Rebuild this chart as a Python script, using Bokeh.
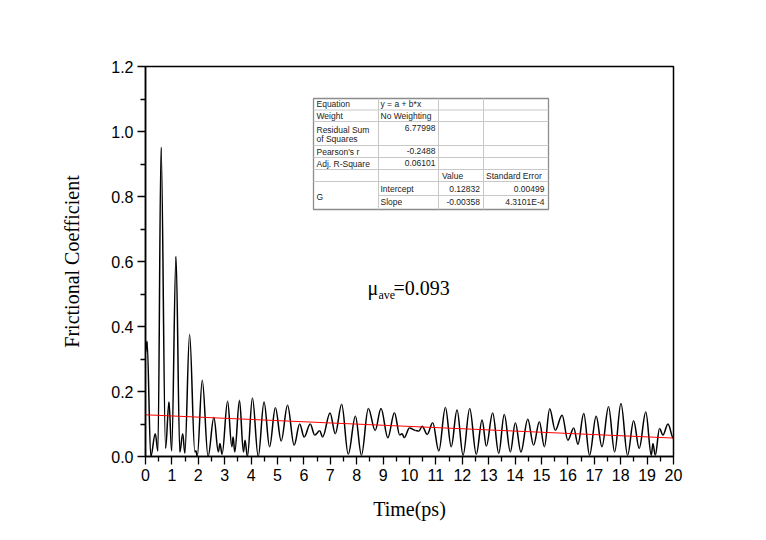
from bokeh.plotting import figure
from bokeh.models import Range1d, FixedTicker, NumeralTickFormatter, ColumnDataSource, Label
from bokeh.core.properties import value
from bokeh.embed import file_html
from bokeh.resources import INLINE

# ---------------- data ----------------
t_ext = [0.00, 0.06, 0.20, 0.37, 0.47, 0.59, 0.76, 0.89, 0.99, 1.156, 1.30, 1.41, 1.49, 1.67,
         1.87, 1.91, 1.96, 2.15, 2.37, 2.59, 2.76, 2.82, 2.90, 3.11, 3.27, 3.32, 3.38, 3.56,
         3.71, 3.77, 3.86, 4.05, 4.27, 4.49, 4.70, 4.92, 5.14, 5.38, 5.63, 5.84, 6.01, 6.24,
         6.41, 6.60, 6.71, 6.99, 7.19, 7.43, 7.68, 7.95, 8.18, 8.44, 8.70, 8.92, 9.18, 9.43,
         9.63, 9.72, 9.80, 10.00, 10.23, 10.35, 10.48, 10.67, 10.88, 11.11, 11.36, 11.58,
         11.80, 12.03, 12.28, 12.53, 12.75, 12.91, 13.15, 13.38, 13.59, 13.82, 14.01, 14.22,
         14.48, 14.70, 14.92, 15.11, 15.31, 15.52, 15.78, 16.00, 16.22, 16.38, 16.60, 16.82,
         17.07, 17.29, 17.54, 17.77, 18.01, 18.26, 18.49, 18.70, 18.95, 19.16, 19.22, 19.31,
         19.47, 19.60, 19.79, 20.00]
mu_ext = [0.32, 0.355, 0.0, 0.07, 0.017, 0.952, 0.025, 0.168, 0.017, 0.616, 0.014, 0.07, 0.01, 0.376,
          0.014, 0.018, 0.0, 0.235, 0.0, 0.12, 0.014, 0.04, 0.007, 0.17, 0.03, 0.06, 0.014, 0.173,
          0.014, 0.05, 0.0, 0.18, 0.0, 0.168, 0.03, 0.15, 0.048, 0.158, 0.035, 0.10, 0.06, 0.10,
          0.066, 0.079, 0.06, 0.134, 0.07, 0.161, 0.007, 0.124, 0.004, 0.148, 0.08, 0.148, 0.058, 0.135,
          0.066, 0.07, 0.058, 0.088, 0.08, 0.078, 0.093, 0.068, 0.104, 0.017, 0.151, 0.03,
          0.143, 0.004, 0.148, 0.007, 0.112, 0.032, 0.134, 0.01, 0.129, 0.014, 0.104, 0.014,
          0.115, 0.035, 0.107, 0.03, 0.147, 0.081, 0.127, 0.05, 0.088, 0.038, 0.132, 0.004,
          0.124, 0.03, 0.153, 0.014, 0.163, 0.004, 0.11, 0.025, 0.137, 0.004, 0.04, 0.004,
          0.086, 0.066, 0.10, 0.055]

fit_intercept = 0.12832
fit_slope = -0.00358
fit_x = [0.0, 20.0]

table_left = [("Equation", "y = a + b*x"), ("Weight", "No Weighting")]
stats_labels = ["Residual Sum", "of Squares", "Pearson's r", "Adj. R-Square"]
stats_values = ["6.77998", "-0.2488", "0.06101"]
param_names = ["Intercept", "Slope"]
param_values = ["0.12832", "-0.00358"]
param_errors = ["0.00499", "4.3101E-4"]

x_major = list(range(0, 21))
x_minor = [i + 0.5 for i in range(0, 20)]
y_major = [0.0, 0.2, 0.4, 0.6, 0.8, 1.0, 1.2]
y_minor = [0.1, 0.3, 0.5, 0.7, 0.9, 1.1]

# ---------------- figure ----------------
W, H = 750, 524
ML, MR, MT, MB = 145, 77, 66, 68
p = figure(width=W, height=H, output_backend="svg", toolbar_location=None,
           x_range=Range1d(0, 20), y_range=Range1d(0, 1.2),
           min_border_left=ML, min_border_right=MR, min_border_top=MT, min_border_bottom=MB)
p.background_fill_color = "white"
p.border_fill_color = "white"
p.outline_line_color = "black"
p.outline_line_width = 1.5
p.xgrid.visible = False
p.ygrid.visible = False

p.xaxis.ticker = FixedTicker(ticks=x_major, minor_ticks=x_minor)
p.yaxis.ticker = FixedTicker(ticks=y_major, minor_ticks=y_minor)
p.yaxis.formatter = NumeralTickFormatter(format="0.0")
for ax in (p.xaxis, p.yaxis):
    ax.axis_line_color = "black"
    ax.axis_line_width = 1.5
    ax.major_tick_line_color = "black"
    ax.minor_tick_line_color = "black"
    ax.major_tick_line_width = 1.3
    ax.minor_tick_line_width = 1.3
    ax.major_tick_in = 0
    ax.minor_tick_in = 0
    ax.major_tick_out = 8
    ax.minor_tick_out = 5
    ax.major_label_text_font = "Liberation Sans"
    ax.major_label_text_font_size = "16px"
    ax.major_label_text_color = "black"
    ax.axis_label_text_font = "Liberation Serif"
    ax.axis_label_text_font_size = "20px"
    ax.axis_label_text_font_style = "normal"
    ax.axis_label_text_color = "black"
p.xaxis.major_label_standoff = 4
p.yaxis.major_label_standoff = 4
p.xaxis.axis_label = "Time(ps)"
p.yaxis.axis_label = "Frictional Coefficient"
p.xaxis.axis_label_standoff = 14
p.yaxis.axis_label_standoff = 25

# ---------------- curve (cubic Bezier through the read extrema) ----------------
k = 0.36
x0 = t_ext[:-1]; x1 = t_ext[1:]
y0 = mu_ext[:-1]; y1 = mu_ext[1:]
cx0 = [a + k * (b - a) for a, b in zip(x0, x1)]
cx1 = [b - k * (b - a) for a, b in zip(x0, x1)]
src = ColumnDataSource(dict(x0=x0, y0=y0, x1=x1, y1=y1, cx0=cx0, cy0=y0, cx1=cx1, cy1=y1))
p.bezier(x0="x0", y0="y0", x1="x1", y1="y1", cx0="cx0", cy0="cy0", cx1="cx1", cy1="cy1",
         source=src, line_color="black", line_width=1.5)

# regression line
fit_y = [fit_intercept + fit_slope * x for x in fit_x]
p.line(fit_x, fit_y, line_color="#ff0000", line_width=1)

# ---------------- helpers: page pixel -> data ----------------
FL, FR, FT, FB = ML, W - MR, MT, H - MB
def X(px):
    return (px - FL) / (FR - FL) * 20.0
def Y(py):
    return (FB - py) / (FB - FT) * 1.2

# ---------------- fit table ----------------
TL, TR, TT, TB = 313, 548, 98, 209
cols = [378, 438, 483]
rows = [109.5, 121, 145, 157, 169, 181]
p.quad(left=[X(TL)], right=[X(TR)], top=[Y(TT)], bottom=[Y(TB)],
       fill_color="white", line_color="#8c8c8c", line_width=1.3)
sx0 = [X(c) for c in cols] + [X(TL)] * len(rows) + [X(cols[0])]
sx1 = [X(c) for c in cols] + [X(TR)] * len(rows) + [X(TR)]
sy0 = [Y(TT)] * 3 + [Y(r) for r in rows] + [Y(195)]
sy1 = [Y(TB)] * 3 + [Y(r) for r in rows] + [Y(195)]
p.segment(x0=sx0, y0=sy0, x1=sx1, y1=sy1, line_color="#c8c8c8", line_width=1)

tfont = value("Liberation Sans")
tsize = "8.5px"
left_txt = [table_left[0][0], table_left[0][1], table_left[1][0], table_left[1][1],
            stats_labels[0], stats_labels[1], stats_labels[2], stats_labels[3],
            "Value", "Standard Error", "G", param_names[0], param_names[1]]
left_px = [316, 380, 316, 380, 316, 316, 316, 316, 441.5, 485.5, 316, 380, 380]
left_py = [103.5, 103.5, 115, 115, 129, 138.5, 151, 163, 175, 175, 196, 188.5, 201.5]
p.text(x=[X(v) for v in left_px], y=[Y(v) for v in left_py], text=left_txt,
       text_font=tfont, text_font_size=tsize, text_color="#222222",
       text_align="left", text_baseline="middle")
right_txt = stats_values + param_values + param_errors
right_px = [435, 435, 435, 479.5, 479.5, 544, 544]
right_py = [127.5, 150, 162, 188.5, 201.5, 188.5, 201.5]
p.text(x=[X(v) for v in right_px], y=[Y(v) for v in right_py], text=right_txt,
       text_font=tfont, text_font_size=tsize, text_color="#222222",
       text_align="right", text_baseline="middle")

# ---------------- mu_ave annotation ----------------
p.add_layout(Label(x=X(367), y=Y(287), text="\u03bc", text_font="Liberation Serif",
                   text_font_size="20px", text_baseline="alphabetic", text_color="black"))
p.add_layout(Label(x=X(378), y=Y(294), text="ave", text_font="Liberation Serif",
                   text_font_size="12px", text_baseline="alphabetic", text_color="black"))
p.add_layout(Label(x=X(393), y=Y(287), text="=0.093", text_font="Liberation Serif",
                   text_font_size="20px", text_baseline="alphabetic", text_color="black"))

open("out.html", "w").write(file_html(p, INLINE))
